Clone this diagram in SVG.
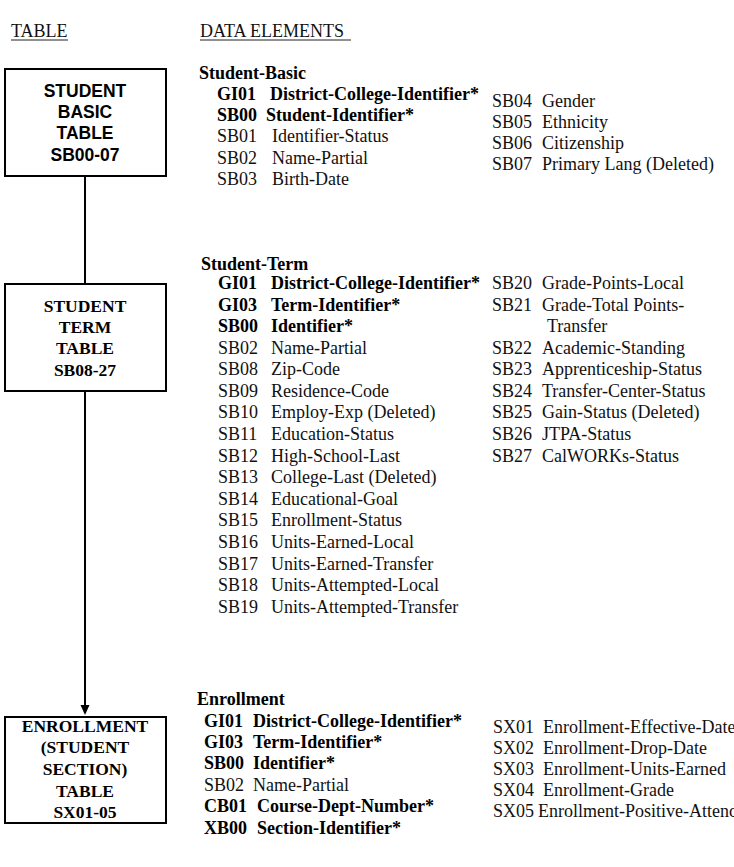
<svg xmlns="http://www.w3.org/2000/svg" width="734" height="867" viewBox="0 0 734 867">
<style>
.hdr{font-family:"Liberation Serif","Times New Roman",serif;font-size:18px;fill:#111}
.box{fill:#fff;stroke:#000;stroke-width:2}
.bs{font-family:"Liberation Sans",Arial,sans-serif;font-weight:bold;font-size:17.5px;text-anchor:middle;fill:#000}
.bt{font-family:"Liberation Serif","Times New Roman",serif;font-weight:bold;font-size:17.5px;text-anchor:middle;fill:#000}
.b{font-family:"Liberation Serif","Times New Roman",serif;font-weight:bold;font-size:18px;fill:#000}
.n{font-family:"Liberation Serif","Times New Roman",serif;font-size:18px;fill:#111}
.ul{stroke:#222;stroke-width:1}
.conn{stroke:#000;stroke-width:2;fill:none}
</style>
<defs>
<marker id="arrow" markerUnits="userSpaceOnUse" markerWidth="10" markerHeight="11" refX="5" refY="10" orient="auto-start-reverse" viewBox="0 0 10 11">
<path d="M0,0 L10,0 L5,10 Z" fill="#000" transform="rotate(-90 5 5)"/>
</marker>
</defs>

<g id="headers">
<text class="hdr" x="11" y="37">TABLE</text>
<line class="ul" x1="11" y1="40" x2="68" y2="40"/>
<text class="hdr" x="200" y="37">DATA ELEMENTS</text>
<line class="ul" x1="200" y1="40" x2="351" y2="40"/>
</g>

<g id="connectors">
<line class="conn" x1="85" y1="177" x2="85" y2="283"/>
<line class="conn" x1="85" y1="392" x2="85" y2="706"/>
<path d="M80.5,705 L89.5,705 L85,715 Z" fill="#000"/>
</g>

<g id="student-basic-table">
<rect class="box" x="5" y="69" width="161" height="107"/>
<text class="bs" x="85" y="97">STUDENT</text>
<text class="bs" x="85" y="118">BASIC</text>
<text class="bs" x="85" y="139">TABLE</text>
<text class="bs" x="85" y="161">SB00-07</text>
</g>

<g id="student-term-table">
<rect class="box" x="5" y="284" width="161" height="107"/>
<text class="bt" x="85" y="312">STUDENT</text>
<text class="bt" x="85" y="333">TERM</text>
<text class="bt" x="85" y="354">TABLE</text>
<text class="bt" x="85" y="376">SB08-27</text>
</g>

<g id="enrollment-table">
<rect class="box" x="5" y="717" width="161" height="106"/>
<text class="bt" x="85" y="732">ENROLLMENT</text>
<text class="bt" x="85" y="753">(STUDENT</text>
<text class="bt" x="85" y="775">SECTION)</text>
<text class="bt" x="85" y="797">TABLE</text>
<text class="bt" x="85" y="818">SX01-05</text>
</g>

<g id="student-basic-elements">
<text class="b" x="199" y="79">Student-Basic</text>
<text class="b" x="217" y="100">GI01</text><text class="b" x="270" y="100">District-College-Identifier*</text>
<text class="b" x="217" y="121">SB00</text><text class="b" x="266" y="121">Student-Identifier*</text>
<text class="n" x="217" y="142">SB01</text><text class="n" x="272" y="142">Identifier-Status</text>
<text class="n" x="217" y="164">SB02</text><text class="n" x="272" y="164">Name-Partial</text>
<text class="n" x="217" y="185">SB03</text><text class="n" x="272" y="185">Birth-Date</text>
<text class="n" x="492" y="107">SB04</text><text class="n" x="542" y="107">Gender</text>
<text class="n" x="492" y="128">SB05</text><text class="n" x="542" y="128">Ethnicity</text>
<text class="n" x="492" y="149">SB06</text><text class="n" x="542" y="149">Citizenship</text>
<text class="n" x="492" y="170">SB07</text><text class="n" x="542" y="170">Primary Lang (Deleted)</text>
</g>

<g id="student-term-elements">
<text class="b" x="201" y="270">Student-Term</text>
<text class="b" x="218" y="289">GI01</text><text class="b" x="271" y="289">District-College-Identifier*</text>
<text class="b" x="218" y="311">GI03</text><text class="b" x="271" y="311">Term-Identifier*</text>
<text class="b" x="218" y="332">SB00</text><text class="b" x="271" y="332">Identifier*</text>
<text class="n" x="218" y="354">SB02</text><text class="n" x="271" y="354">Name-Partial</text>
<text class="n" x="218" y="375">SB08</text><text class="n" x="271" y="375">Zip-Code</text>
<text class="n" x="218" y="397">SB09</text><text class="n" x="271" y="397">Residence-Code</text>
<text class="n" x="218" y="418">SB10</text><text class="n" x="271" y="418">Employ-Exp (Deleted)</text>
<text class="n" x="218" y="440">SB11</text><text class="n" x="271" y="440">Education-Status</text>
<text class="n" x="218" y="462">SB12</text><text class="n" x="271" y="462">High-School-Last</text>
<text class="n" x="218" y="483">SB13</text><text class="n" x="271" y="483">College-Last (Deleted)</text>
<text class="n" x="218" y="505">SB14</text><text class="n" x="271" y="505">Educational-Goal</text>
<text class="n" x="218" y="526">SB15</text><text class="n" x="271" y="526">Enrollment-Status</text>
<text class="n" x="218" y="548">SB16</text><text class="n" x="271" y="548">Units-Earned-Local</text>
<text class="n" x="218" y="570">SB17</text><text class="n" x="271" y="570">Units-Earned-Transfer</text>
<text class="n" x="218" y="591">SB18</text><text class="n" x="271" y="591">Units-Attempted-Local</text>
<text class="n" x="218" y="613">SB19</text><text class="n" x="271" y="613">Units-Attempted-Transfer</text>
<text class="n" x="492" y="289">SB20</text><text class="n" x="542" y="289">Grade-Points-Local</text>
<text class="n" x="492" y="311">SB21</text><text class="n" x="542" y="311">Grade-Total Points-</text>
<text class="n" x="547" y="332">Transfer</text>
<text class="n" x="492" y="354">SB22</text><text class="n" x="542" y="354">Academic-Standing</text>
<text class="n" x="492" y="375">SB23</text><text class="n" x="542" y="375">Apprenticeship-Status</text>
<text class="n" x="492" y="397">SB24</text><text class="n" x="542" y="397">Transfer-Center-Status</text>
<text class="n" x="492" y="418">SB25</text><text class="n" x="542" y="418">Gain-Status (Deleted)</text>
<text class="n" x="492" y="440">SB26</text><text class="n" x="542" y="440">JTPA-Status</text>
<text class="n" x="492" y="462">SB27</text><text class="n" x="542" y="462">CalWORKs-Status</text>
</g>

<g id="enrollment-elements">
<text class="b" x="197" y="705">Enrollment</text>
<text class="b" x="204" y="727">GI01</text><text class="b" x="253" y="727">District-College-Identifier*</text>
<text class="b" x="204" y="748">GI03</text><text class="b" x="253" y="748">Term-Identifier*</text>
<text class="b" x="204" y="769">SB00</text><text class="b" x="253" y="769">Identifier*</text>
<text class="n" x="204" y="791">SB02</text><text class="n" x="253" y="791">Name-Partial</text>
<text class="b" x="204" y="812">CB01</text><text class="b" x="257" y="812">Course-Dept-Number*</text>
<text class="b" x="204" y="834">XB00</text><text class="b" x="257" y="834">Section-Identifier*</text>
<text class="n" x="493" y="733">SX01</text><text class="n" x="543" y="733">Enrollment-Effective-Date</text>
<text class="n" x="493" y="754">SX02</text><text class="n" x="543" y="754">Enrollment-Drop-Date</text>
<text class="n" x="493" y="775">SX03</text><text class="n" x="543" y="775">Enrollment-Units-Earned</text>
<text class="n" x="493" y="796">SX04</text><text class="n" x="543" y="796">Enrollment-Grade</text>
<text class="n" x="493" y="817">SX05</text><text class="n" x="538" y="817">Enrollment-Positive-Attend</text>
</g>
</svg>
